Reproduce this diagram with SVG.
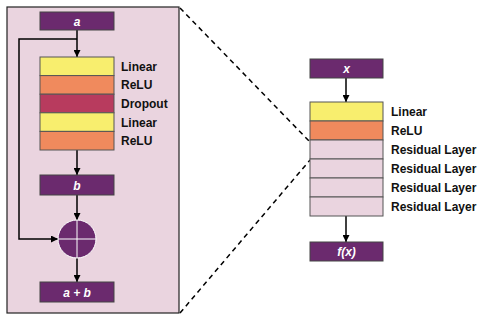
<svg xmlns="http://www.w3.org/2000/svg" width="498" height="320" viewBox="0 0 498 320">
<style>
.box{fill:#6b2a6e;stroke:#444;stroke-width:1}
.lin{fill:#f8ee6e;stroke:#555;stroke-width:1}
.relu{fill:#f08a5d;stroke:#555;stroke-width:1}
.drop{fill:#b83b5e;stroke:#555;stroke-width:1}
.res{fill:#ead4df;stroke:#555;stroke-width:1}
.bt{font-family:"Liberation Sans",Arial,sans-serif;font-size:12px;font-weight:bold;font-style:italic;fill:#fff;text-anchor:middle}
.lbl{font-family:"Liberation Sans",Arial,sans-serif;font-size:12px;font-weight:bold;fill:#111}
.ln{fill:none;stroke:#000;stroke-width:1.5}
.dash{fill:none;stroke:#000;stroke-width:1.5;stroke-dasharray:5,4}
</style>
<defs>
<marker id="ah" viewBox="0 0 10 10" refX="10" refY="5" markerWidth="7" markerHeight="7" markerUnits="userSpaceOnUse" orient="auto">
<path d="M0,0 L10,5 L0,10 z" fill="#000"/>
</marker>
</defs>
<rect x="7" y="7" width="172" height="306" fill="#ead4df" stroke="#222" stroke-width="1.2"/>
<g id="connectors">
<line class="ln" x1="77" y1="30" x2="77" y2="57" marker-end="url(#ah)"/>
<polyline class="ln" points="77,39 19,39 19,239 58,239" marker-end="url(#ah)"/>
<line class="ln" x1="77" y1="150" x2="77" y2="175" marker-end="url(#ah)"/>
<line class="ln" x1="77" y1="195" x2="77" y2="220" marker-end="url(#ah)"/>
<line class="ln" x1="77" y1="258" x2="77" y2="282" marker-end="url(#ah)"/>
<line class="ln" x1="346" y1="78" x2="346" y2="102" marker-end="url(#ah)"/>
<line class="ln" x1="346" y1="216" x2="346" y2="242" marker-end="url(#ah)"/>
<line class="dash" x1="180" y1="8" x2="309" y2="141"/>
<line class="dash" x1="180" y1="313" x2="310" y2="160"/>
</g>
<g id="node-a"><rect class="box" x="40" y="12" width="74" height="18"/><text class="bt" x="77" y="25.5">a</text></g>
<g id="node-block">
<rect class="lin" x="40" y="57" width="74" height="18.6"/>
<rect class="relu" x="40" y="75.6" width="74" height="18.6"/>
<rect class="drop" x="40" y="94.2" width="74" height="18.6"/>
<rect class="lin" x="40" y="112.8" width="74" height="18.6"/>
<rect class="relu" x="40" y="131.4" width="74" height="18.6"/>
<text class="lbl" x="121" y="70.5">Linear</text>
<text class="lbl" x="121" y="89">ReLU</text>
<text class="lbl" x="121" y="108">Dropout</text>
<text class="lbl" x="121" y="126.5">Linear</text>
<text class="lbl" x="121" y="145">ReLU</text>
</g>
<g id="node-b"><rect class="box" x="40" y="175" width="74" height="20"/><text class="bt" x="77" y="189.5">b</text></g>
<g id="node-add">
<circle cx="77" cy="239" r="19" fill="#6b2a6e" stroke="#fff" stroke-width="1"/>
<line x1="58" y1="239" x2="96" y2="239" stroke="#fff" stroke-width="1"/>
<line x1="77" y1="220" x2="77" y2="258" stroke="#fff" stroke-width="1"/>
</g>
<g id="node-ab"><rect class="box" x="40" y="282" width="74" height="20"/><text class="bt" x="77" y="296.5">a + b</text></g>
<g id="node-x"><rect class="box" x="310" y="59" width="73" height="19"/><text class="bt" x="346.5" y="73">x</text></g>
<g id="node-net">
<rect class="lin" x="310" y="102" width="73" height="19"/>
<rect class="relu" x="310" y="121" width="73" height="19"/>
<rect class="res" x="310" y="140" width="73" height="19"/>
<rect class="res" x="310" y="159" width="73" height="19"/>
<rect class="res" x="310" y="178" width="73" height="19"/>
<rect class="res" x="310" y="197" width="73" height="19"/>
<text class="lbl" x="391" y="116">Linear</text>
<text class="lbl" x="391" y="135">ReLU</text>
<text class="lbl" x="391" y="154">Residual Layer</text>
<text class="lbl" x="391" y="173">Residual Layer</text>
<text class="lbl" x="391" y="192">Residual Layer</text>
<text class="lbl" x="391" y="211">Residual Layer</text>
</g>
<g id="node-fx"><rect class="box" x="310" y="242" width="73" height="19"/><text class="bt" x="346.5" y="256">f(x)</text></g>
</svg>
